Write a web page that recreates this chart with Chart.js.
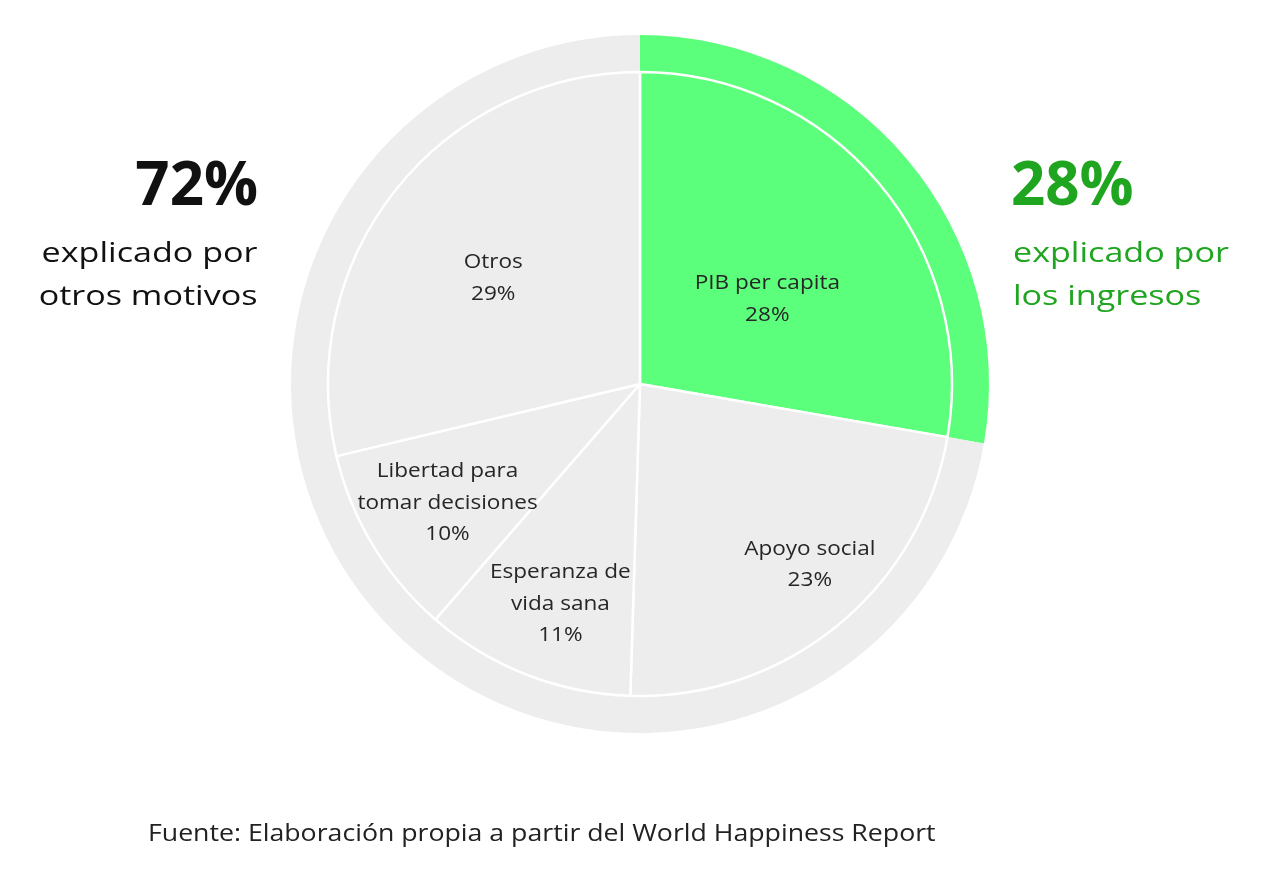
<!DOCTYPE html>
<html>
<head>
<meta charset="utf-8">
<script src="https://cdn.jsdelivr.net/npm/chart.js@4.4.1/dist/chart.umd.min.js"></script>
<style>
  html, body { margin: 0; padding: 0; background: #ffffff; }
  #wrap { position: relative; width: 1262px; height: 886px; overflow: hidden; font-family: "Open Sans", sans-serif; }
  #c { position: absolute; left: 0; top: 0; }
  .side { position: absolute; white-space: nowrap; }
  .big { font-size: 60px; line-height: 60px; font-weight: 700; }
  .sub { font-size: 27.5px; line-height: 43px; }
  #left { position: absolute; left: 0; top: 0; width: 258px; height: 0; color: #111111; }
  #left .side { right: 0; text-align: right; transform-origin: right center; }
  #right { position: absolute; left: 1011px; top: 0; height: 0; color: #1fa51f; }
  #right .side { left: 0; text-align: left; transform-origin: left center; }
  .sub { transform: scaleX(1.24); }
  #foot { position: absolute; left: 148px; top: 821px; font-size: 23px; line-height: 23px; color: #222222; white-space: nowrap; transform: scaleX(1.16); transform-origin: left center; }
</style>
</head>
<body>
<div id="wrap">
  <canvas id="c" width="1262" height="886"></canvas>
  <div id="left">
    <div class="side big" id="leftBig" style="top:152px;"></div>
    <div class="side sub" id="leftSub" style="top:230px;"></div>
  </div>
  <div id="right">
    <div class="side big" id="rightBig" style="top:152px;"></div>
    <div class="side sub" id="rightSub" style="top:230px; left:2px;"></div>
  </div>
  <div id="foot"></div>
</div>
<script>
// ---- data ----
const categories = [
  ['PIB per capita'],
  ['Apoyo social'],
  ['Esperanza de', 'vida sana'],
  ['Libertad para', 'tomar decisiones'],
  ['Otros']
];
const values = [28, 23, 11, 10, 29];           // % shown in each slice
const summaryValues = [28, 72];                 // % in the side texts (ingresos, otros motivos)
const leftText = ['explicado por', 'otros motivos'];
const rightText = ['explicado por', 'los ingresos'];
const sourceText = 'Fuente: Elaboración propia a partir del World Happiness Report';

// outer ring derived from slice values: income vs everything else
const ringValues = [values[0], values.slice(1).reduce((a, b) => a + b, 0)];

// ---- colours ----
const GREEN = '#5cff7b';
const GREY = '#ededed';
const sliceColors = [GREEN, GREY, GREY, GREY, GREY];
const ringColors = [GREEN, GREY];

// ---- side texts ----
document.getElementById('leftBig').textContent = summaryValues[1] + '%';
document.getElementById('leftSub').innerHTML = leftText.join('<br>');
document.getElementById('rightBig').textContent = summaryValues[0] + '%';
document.getElementById('rightSub').innerHTML = rightText.join('<br>');
document.getElementById('foot').textContent = sourceText;

// ---- slice label plugin ----
const sliceLabels = {
  id: 'sliceLabels',
  afterDatasetsDraw(chart, args, opts) {
    const meta = chart.getDatasetMeta(1);
    const ctx = chart.ctx;
    ctx.save();
    ctx.fillStyle = opts.color;
    ctx.font = opts.font;
    ctx.textAlign = 'center';
    ctx.textBaseline = 'middle';
    meta.data.forEach((arc, i) => {
      const p = arc.getProps(['x', 'y', 'startAngle', 'endAngle', 'outerRadius'], true);
      const mid = (p.startAngle + p.endAngle) / 2 + (opts.angleShift[i] || 0) * Math.PI / 180;
      const r = p.outerRadius * opts.radiusFrac[i];
      const cx = p.x + Math.cos(mid) * r;
      const cy = p.y + Math.sin(mid) * r;
      const lines = chart.data.labels[i].concat([values[i] + '%']);
      const h = opts.lineHeight;
      lines.forEach((t, k) => {
        ctx.save();
        ctx.translate(cx, cy + (k - (lines.length - 1) / 2) * h);
        ctx.scale(opts.stretch, 1);
        ctx.fillText(t, 0, 0);
        ctx.restore();
      });
    });
    ctx.restore();
  }
};

new Chart(document.getElementById('c'), {
  type: 'pie',
  data: {
    labels: categories,
    datasets: [
      {
        label: 'Ring',
        data: ringValues,
        backgroundColor: ringColors,
        borderWidth: 0,
        weight: 37,
        order: 1
      },
      {
        label: 'Factores',
        data: values,
        backgroundColor: sliceColors,
        borderColor: '#ffffff',
        borderWidth: 2.5,
        weight: 312,
        order: 0
      }
    ]
  },
  options: {
    responsive: false,
    animation: false,
    events: [],
    layout: { padding: { top: 35, bottom: 153, left: 18, right: 0 } },
    plugins: {
      legend: { display: false },
      tooltip: { enabled: false },
      sliceLabels: {
        color: '#262626',
        font: '20.5px "Open Sans"',
        stretch: 1.1,
        lineHeight: 31.5,
        radiusFrac: [0.49, 0.795, 0.75, 0.725, 0.58],
        angleShift: [6.5, -4, -1.5, -0.5, -2.5]
      }
    }
  },
  plugins: [sliceLabels]
});
</script>
</body>
</html>
